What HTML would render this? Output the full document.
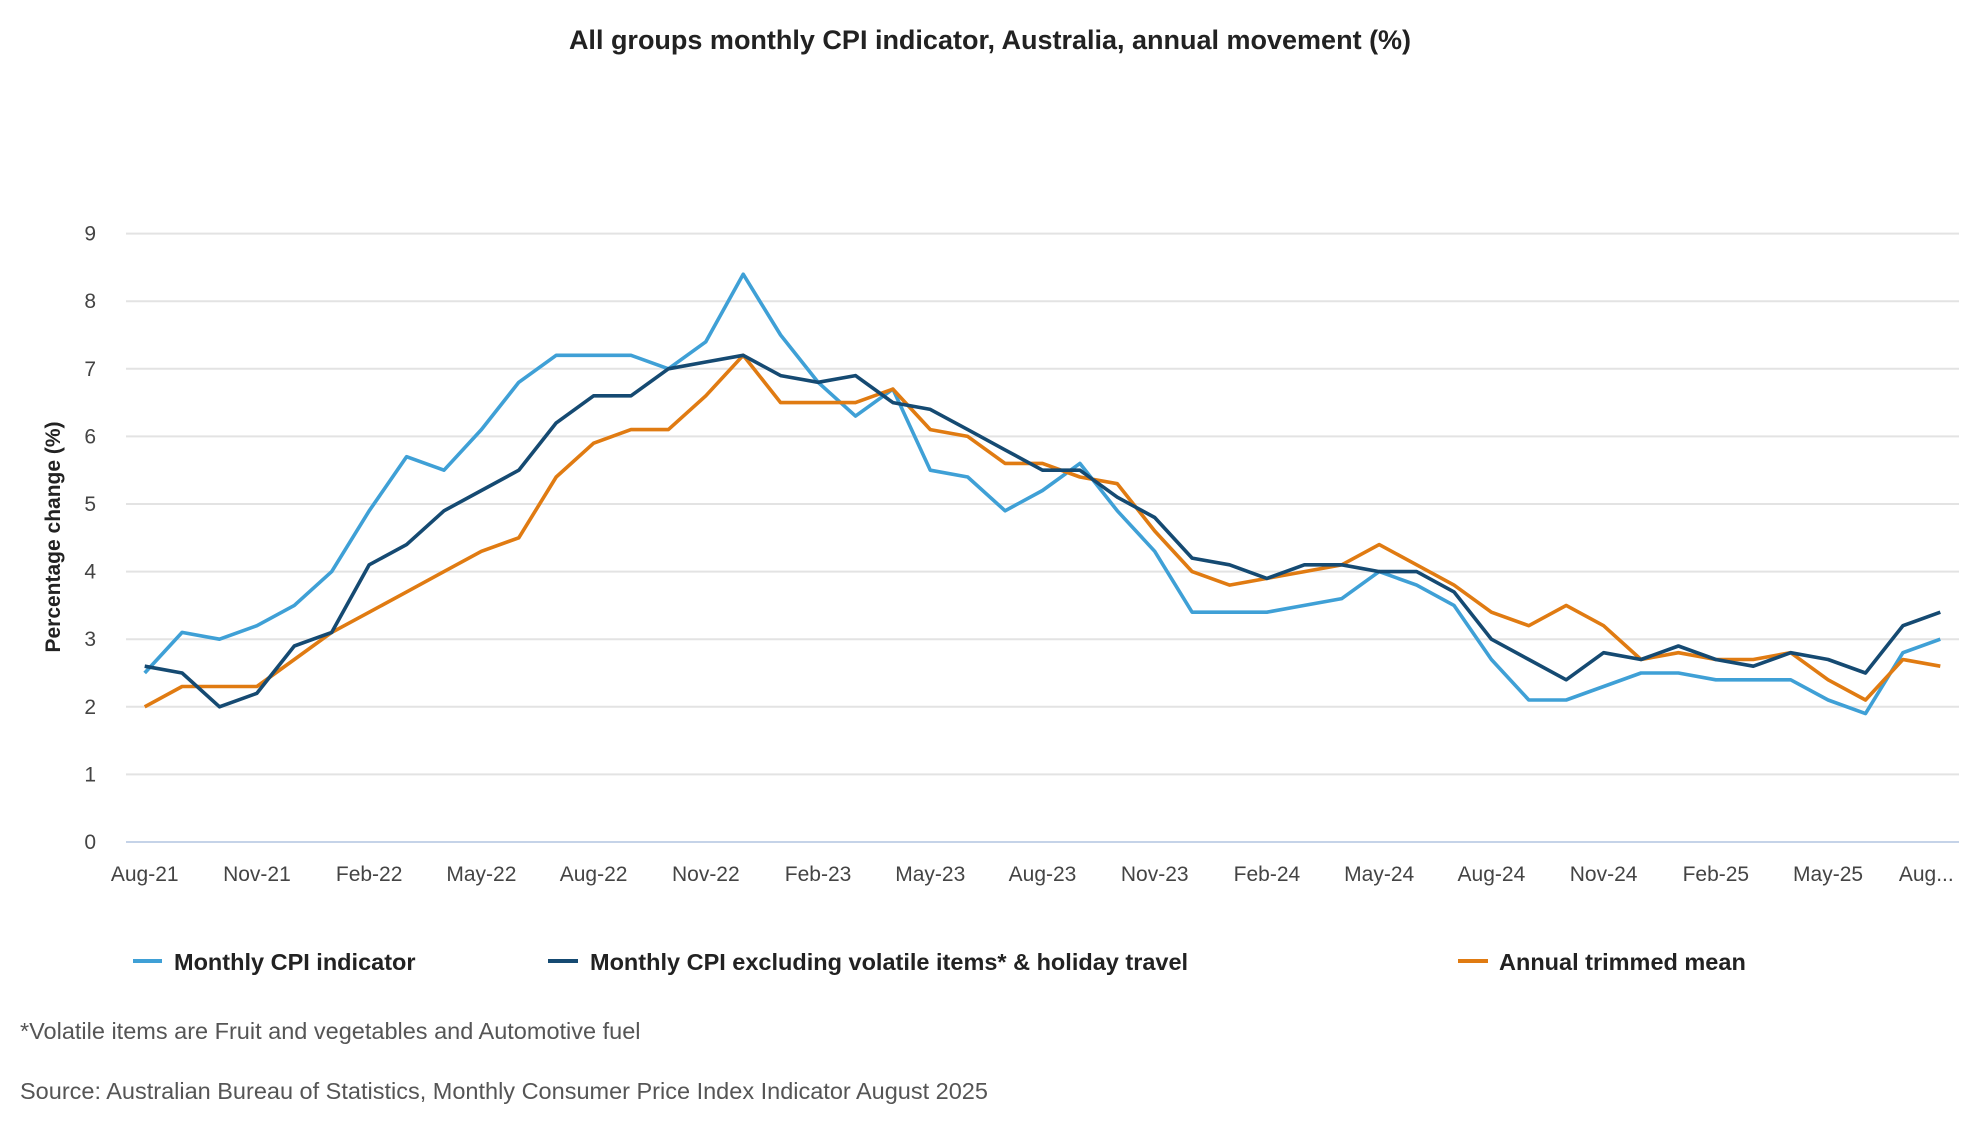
<!DOCTYPE html>
<html><head><meta charset="utf-8"><style>
html,body{margin:0;padding:0;background:#fff;}
body{width:1980px;height:1140px;overflow:hidden;font-family:"Liberation Sans",sans-serif;}
</style></head><body>
<svg width="1980" height="1140" viewBox="0 0 1980 1140" xmlns="http://www.w3.org/2000/svg">
<text x="990" y="49" text-anchor="middle" font-size="27" font-weight="bold" fill="#222">All groups monthly CPI indicator, Australia, annual movement (%)</text>
<g id="grid"></g>
<g id="yticks"></g>
<g id="xticks"></g>
<text transform="translate(60,537) rotate(-90)" text-anchor="middle" font-size="21" font-weight="bold" fill="#222">Percentage change (%)</text>
<g id="lines"></g>
<g>
 <g><line x1="133" y1="961" x2="162" y2="961" stroke="#3fa0d6" stroke-width="4"/><text x="174" y="970" font-size="23.5" font-weight="bold" fill="#222">Monthly CPI indicator</text></g>
 <g><line x1="548" y1="961" x2="578" y2="961" stroke="#154a72" stroke-width="4"/><text x="590" y="970" font-size="23.5" font-weight="bold" fill="#222">Monthly CPI excluding volatile items* &amp; holiday travel</text></g>
 <g><line x1="1458" y1="961" x2="1488" y2="961" stroke="#e07b12" stroke-width="4"/><text x="1499" y="970" font-size="23.5" font-weight="bold" fill="#222">Annual trimmed mean</text></g>
</g>
<text x="20" y="1039" font-size="23.5" fill="#555">*Volatile items are Fruit and vegetables and Automotive fuel</text>
<text x="20" y="1099" font-size="23.5" fill="#555">Source: Australian Bureau of Statistics, Monthly Consumer Price Index Indicator August 2025</text>
</svg>
<script>
const months = ["Aug-21","Sep-21","Oct-21","Nov-21","Dec-21","Jan-22","Feb-22","Mar-22","Apr-22","May-22","Jun-22","Jul-22","Aug-22","Sep-22","Oct-22","Nov-22","Dec-22","Jan-23","Feb-23","Mar-23","Apr-23","May-23","Jun-23","Jul-23","Aug-23","Sep-23","Oct-23","Nov-23","Dec-23","Jan-24","Feb-24","Mar-24","Apr-24","May-24","Jun-24","Jul-24","Aug-24","Sep-24","Oct-24","Nov-24","Dec-24","Jan-25","Feb-25","Mar-25","Apr-25","May-25","Jun-25","Jul-25","Aug-25"];
const monthlyCpi = [2.5,3.1,3.0,3.2,3.5,4.0,4.9,5.7,5.5,6.1,6.8,7.2,7.2,7.2,7.0,7.4,8.4,7.5,6.8,6.3,6.7,5.5,5.4,4.9,5.2,5.6,4.9,4.3,3.4,3.4,3.4,3.5,3.6,4.0,3.8,3.5,2.7,2.1,2.1,2.3,2.5,2.5,2.4,2.4,2.4,2.1,1.9,2.8,3.0];
const excludingVolatile = [2.6,2.5,2.0,2.2,2.9,3.1,4.1,4.4,4.9,5.2,5.5,6.2,6.6,6.6,7.0,7.1,7.2,6.9,6.8,6.9,6.5,6.4,6.1,5.8,5.5,5.5,5.1,4.8,4.2,4.1,3.9,4.1,4.1,4.0,4.0,3.7,3.0,2.7,2.4,2.8,2.7,2.9,2.7,2.6,2.8,2.7,2.5,3.2,3.4];
const trimmedMean = [2.0,2.3,2.3,2.3,2.7,3.1,3.4,3.7,4.0,4.3,4.5,5.4,5.9,6.1,6.1,6.6,7.2,6.5,6.5,6.5,6.7,6.1,6.0,5.6,5.6,5.4,5.3,4.6,4.0,3.8,3.9,4.0,4.1,4.4,4.1,3.8,3.4,3.2,3.5,3.2,2.7,2.8,2.7,2.7,2.8,2.4,2.1,2.7,2.6];
const yTicks = [0,1,2,3,4,5,6,7,8,9];
const xLabelIdx = [0,3,6,9,12,15,18,21,24,27,30,33,36,39,42,45,48];

const NS="http://www.w3.org/2000/svg";
const L=126,R=1959,Y0=842,Y9=233.6;
const step=(R-L)/months.length;
function xs(i){return L+(i+0.5)*step;}
function ys(v){return Y0-(Y0-Y9)*v/9;}
function mk(tag,attrs,parent){const e=document.createElementNS(NS,tag);for(const k in attrs)e.setAttribute(k,attrs[k]);parent.appendChild(e);return e;}
const grid=document.getElementById('grid'),yt=document.getElementById('yticks'),xt=document.getElementById('xticks'),lines=document.getElementById('lines');
yTicks.forEach(v=>{
  const g=mk('line',{x1:L,x2:R,y1:ys(v),y2:ys(v),stroke:v===0?'#c5d3e8':'#e3e3e3','stroke-width':2},grid);
  
  
  const t=mk('text',{x:96,y:ys(v)+7,'text-anchor':'end','font-size':21,fill:'#444'},yt);
  t.textContent=v;
  
  
});
xLabelIdx.forEach(i=>{
  const t=mk('text',{x:i===48?xs(i)-14:xs(i),y:881,'text-anchor':'middle','font-size':21,fill:'#444'},xt);
  t.textContent=i===48?'Aug...':months[i];
  
  
});
function draw(data,color,name){
  const p=mk('polyline',{points:data.map((v,i)=>xs(i).toFixed(1)+','+ys(v).toFixed(1)).join(' '),fill:'none',stroke:color,'stroke-width':3.6,'stroke-linejoin':'round'},lines);
  
  
}
draw(monthlyCpi,'#3fa0d6','line-monthly-cpi');
draw(trimmedMean,'#e07b12','line-trimmed-mean');
draw(excludingVolatile,'#154a72','line-excluding-volatile');
</script>
</body></html>
